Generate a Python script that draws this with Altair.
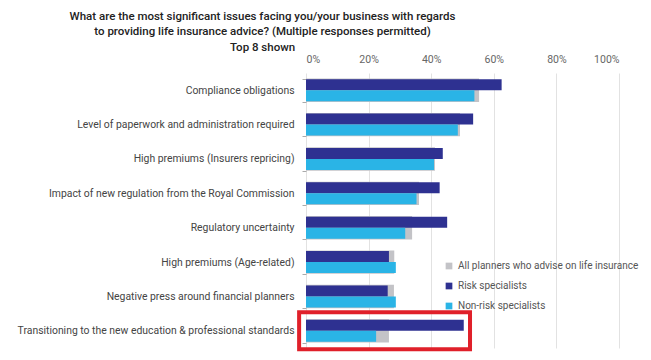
import altair as alt
import pandas as pd

categories = [
    "Compliance obligations",
    "Level of paperwork and administration required",
    "High premiums (Insurers repricing)",
    "Impact of new regulation from the Royal Commission",
    "Regulatory uncertainty",
    "High premiums (Age-related)",
    "Negative press around financial planners",
    "Transitioning to the new education & professional standards",
]
series = ["All planners who advise on life insurance", "Risk specialists", "Non-risk specialists"]
all_planners = [55.3, 49.2, 41.2, 36.1, 33.9, 28.2, 28.1, 26.5]
risk = [62.5, 53.4, 43.7, 42.7, 45.1, 26.5, 26.1, 50.4]
non_risk = [53.8, 48.5, 40.9, 35.3, 31.7, 28.7, 28.7, 22.4]
colors = ["#c3c3c7", "#2e3191", "#2ab4e6"]
tick_values = [0, 10, 20, 30, 40, 50, 60, 70, 80, 90, 100]
highlight_cat = ["Transitioning to the new education & professional standards"]
highlight_x0 = [-2.2]
highlight_x1 = [52.4]

rows = []
for vals, s in zip([all_planners, risk, non_risk], series):
    for c, v in zip(categories, vals):
        rows.append({"category": c, "series": s, "value": v})
df = pd.DataFrame(rows)
hl = pd.DataFrame({"category": highlight_cat, "x0": highlight_x0, "x1": highlight_x1})

y_enc = alt.Y("category:N", sort=categories,
              scale=alt.Scale(domain=categories, paddingInner=0.32, paddingOuter=0.16),
              axis=alt.Axis(title=None, labelFontSize=10.4, labelColor="#444",
                            labelFont="Roboto", labelPadding=8, tickColor="#aaa",
                            tickSize=4, domain=False, grid=False, tickBand="extent",
                            labelLimit=0))
x_enc = alt.X("value:Q", scale=alt.Scale(domain=[0, 100], nice=False),
              axis=alt.Axis(orient="top", title=None, values=tick_values,
                            labelExpr="datum.value + '%'", labelFontSize=10.5,
                            labelColor="#666", labelFont="Roboto", ticks=False,
                            domain=False, gridColor="#e2e2e2", labelPadding=9,
                            labelOverlap=False))
color_enc = alt.Color("series:N", sort=series,
                      scale=alt.Scale(domain=series, range=colors),
                      legend=alt.Legend(title=None, orient="none", legendX=138, legendY=188,
                                        symbolType="square", symbolSize=45,
                                        labelFontSize=10, labelColor="#555",
                                        labelFont="Roboto", rowPadding=10,
                                        symbolStrokeWidth=0, labelLimit=0))

base = alt.Chart(df)
gray = base.transform_filter(alt.datum.series == series[0]).mark_bar().encode(
    y=y_enc, x=x_enc, color=color_enc)
subs = base.transform_filter(alt.datum.series != series[0]).mark_bar().encode(
    y=y_enc, x=x_enc, color=color_enc,
    yOffset=alt.YOffset("series:N", sort=series[1:],
                        scale=alt.Scale(domain=series[1:], paddingInner=0, paddingOuter=0.06)))
box = alt.Chart(hl).mark_bar(size=37, filled=False, stroke="#e0202a", strokeWidth=4).encode(
    y=alt.Y("category:N", sort=categories), x="x0:Q", x2="x1:Q")

chart = alt.layer(gray, subs, box).properties(
    width=313, height=275,
    title=alt.TitleParams(
        text=["What are the most significant issues facing you/your business with regards",
              "to providing life insurance advice? (Multiple responses permitted)",
              "Top 8 shown"],
        anchor="middle", dx=-200, fontSize=11.5, font="Roboto",
        fontWeight=500, color="#222", lineHeight=15.5, offset=1),
    autosize=alt.AutoSizeParams(type="none"),
    padding={"left": 298, "top": 65, "right": 22, "bottom": 4},
).configure_view(stroke=None)

chart.save("out.html", embed_options={"renderer": "svg", "actions": False})
